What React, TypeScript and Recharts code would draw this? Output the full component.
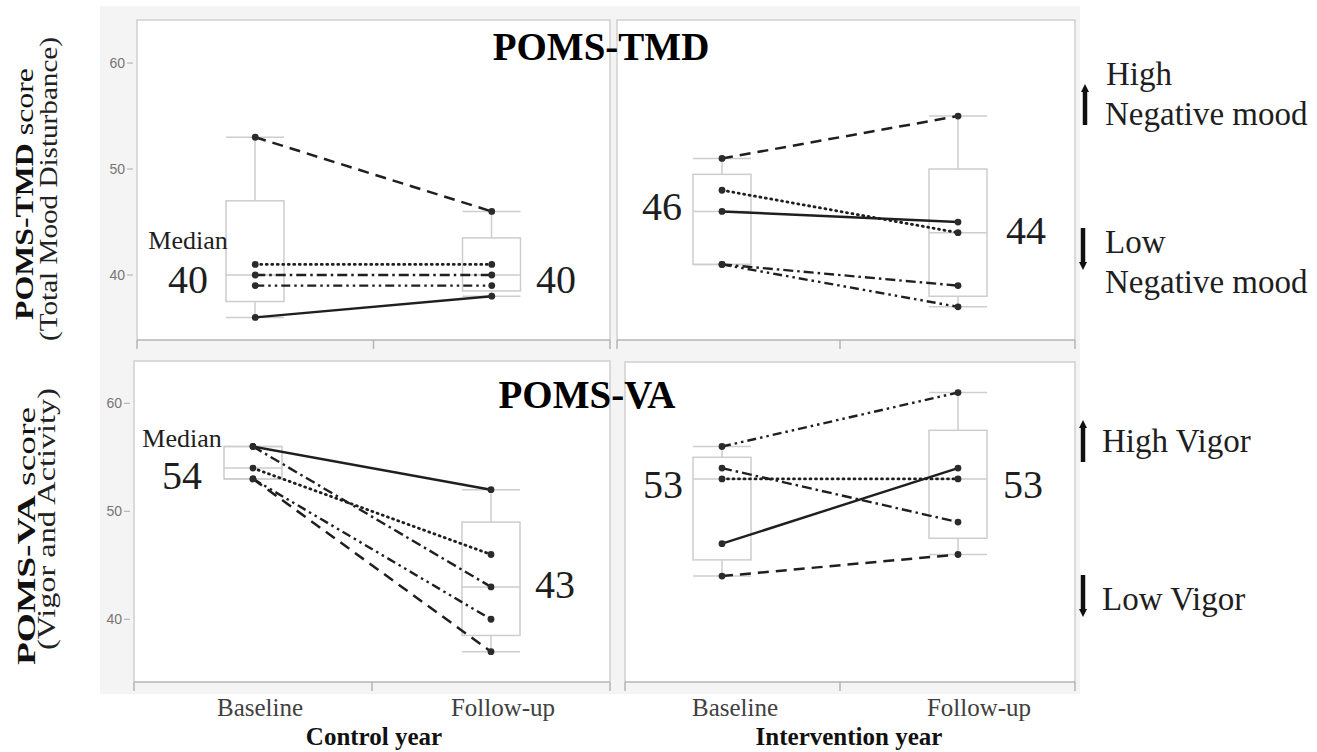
import React from 'react';
import { ComposedChart, Bar, Line, XAxis, YAxis } from 'recharts';

// ---------- data ----------
const timepoints = ['Baseline', 'Follow-up'];
const yTicks = [40, 50, 60];

// POMS-TMD, control year (baseline, follow-up) per subject
const tmdCtrlSolid = [36, 38];
const tmdCtrlDashed = [53, 46];
const tmdCtrlDotted = [41, 41];
const tmdCtrlDashDot = [40, 40];
const tmdCtrlDashDotDot = [39, 39];
// box stats [min, q1, median, q3, max] per timepoint
const tmdCtrlBox = [
  [36, 37.5, 40, 47, 53],
  [38, 38.5, 40, 43.5, 46],
];

// POMS-TMD, intervention year
const tmdIntSolid = [46, 45];
const tmdIntDashed = [51, 55];
const tmdIntDotted = [48, 44];
const tmdIntDashDot = [41, 39];
const tmdIntDashDotDot = [41, 37];
const tmdIntBox = [
  [41, 41, 46, 49.5, 51],
  [37, 38, 44, 50, 55],
];

// POMS-VA, control year
const vaCtrlSolid = [56, 52];
const vaCtrlDashed = [53, 37];
const vaCtrlDotted = [54, 46];
const vaCtrlDashDot = [56, 43];
const vaCtrlDashDotDot = [53, 40];
const vaCtrlBox = [
  [53, 53, 54, 56, 56],
  [37, 38.5, 43, 49, 52],
];

// POMS-VA, intervention year
const vaIntSolid = [47, 54];
const vaIntDashed = [44, 46];
const vaIntDotted = [53, 53];
const vaIntDashDot = [54, 49];
const vaIntDashDotDot = [56, 61];
const vaIntBox = [
  [44, 45.5, 53, 55, 56],
  [46, 47.5, 53, 57.5, 61],
];

const tmdDomain: [number, number] = [33.87, 64.06];
const vaDomain: [number, number] = [34.19, 63.92];

// ---------- helpers ----------
const SERIF = '"Liberation Serif", "Times New Roman", serif';
const SANS = '"Liberation Sans", Arial, sans-serif';

function buildRows(
  solid: number[], dashed: number[], dotted: number[], dashDot: number[], dashDotDot: number[], box: number[][]
) {
  return timepoints.map((t, i) => ({
    t,
    solid: solid[i],
    dashed: dashed[i],
    dotted: dotted[i],
    dashDot: dashDot[i],
    dashDotDot: dashDotDot[i],
    whisker: [box[i][0], box[i][4]],
    lo: box[i][0],
    q1: box[i][1],
    med: box[i][2],
    q3: box[i][3],
    hi: box[i][4],
  }));
}

const tmdCtrlRows = buildRows(tmdCtrlSolid, tmdCtrlDashed, tmdCtrlDotted, tmdCtrlDashDot, tmdCtrlDashDotDot, tmdCtrlBox);
const tmdIntRows = buildRows(tmdIntSolid, tmdIntDashed, tmdIntDotted, tmdIntDashDot, tmdIntDashDotDot, tmdIntBox);
const vaCtrlRows = buildRows(vaCtrlSolid, vaCtrlDashed, vaCtrlDotted, vaCtrlDashDot, vaCtrlDashDotDot, vaCtrlBox);
const vaIntRows = buildRows(vaIntSolid, vaIntDashed, vaIntDotted, vaIntDashDot, vaIntDashDotDot, vaIntBox);

const BoxShape = (props: any) => {
  const { x, y, width, height, payload } = props;
  if (!payload) return null;
  const { lo, q1, med, q3, hi } = payload;
  const top = Math.min(y, y + height);
  const h = Math.abs(height);
  const ppu = h / (hi - lo);
  const py = (v: number) => top + (hi - v) * ppu;
  const cx = x + width / 2;
  return (
    <g stroke="#cdcdcd" strokeWidth={1.5} fill="none">
      <line x1={cx} x2={cx} y1={py(hi)} y2={py(q3)} />
      <line x1={cx} x2={cx} y1={py(q1)} y2={py(lo)} />
      <line x1={x} x2={x + width} y1={py(hi)} y2={py(hi)} />
      <line x1={x} x2={x + width} y1={py(lo)} y2={py(lo)} />
      <rect x={x} y={py(q3)} width={width} height={py(q1) - py(q3)} />
      <line x1={x} x2={x + width} y1={py(med)} y2={py(med)} />
    </g>
  );
};

const makeXTick = (band: number, showLabels: boolean, dxs: number[]) => (props: any) => {
  const { x, y, payload, index } = props;
  return (
    <g>
      {index === 0 && (
        <line x1={x + band / 2} x2={x + band / 2} y1={y} y2={y + 9} stroke="#b5b5b5" strokeWidth={1.5} />
      )}
      {showLabels && (
        <text x={x + dxs[index]} y={y + 34} textAnchor="middle" fontSize={25} fontFamily={SERIF} fill="#404040">
          {payload.value}
        </text>
      )}
    </g>
  );
};

const YTick = (props: any) => {
  const { x, y, payload } = props;
  return (
    <g>
      <text x={x - 12} y={y} dy={5} textAnchor="end" fontSize={14} fontFamily={SANS} fill="#7a7575">
        {payload.value}
      </text>
      <line x1={x - 10} x2={x - 4} y1={y} y2={y} stroke="#aaaaaa" strokeWidth={1} />
    </g>
  );
};

const LINE_COLOR = '#1f1f1f';
const dotStyle = { r: 3.4, fill: '#2b2b2b', stroke: 'none', strokeDasharray: '' };

function Panel(props: {
  rows: any[];
  domain: [number, number];
  left: number;
  top: number;
  width: number;
  height: number;
  xAxisHeight: number;
  showY: boolean;
  band: number;
  showLabels: boolean;
  labelDx: number[];
}) {
  const { rows, domain, left, top, width, height, xAxisHeight, showY, band, showLabels, labelDx } = props;
  return (
    <div style={{ position: 'absolute', left, top, width, height }}>
      <ComposedChart width={width} height={height} data={rows} margin={{ top: 0, right: 0, bottom: 0, left: 0 }}>
        <XAxis
          dataKey="t"
          type="category"
          axisLine={false}
          tickLine={false}
          tickSize={0}
          tickMargin={0}
          interval={0}
          height={xAxisHeight}
          tick={makeXTick(band, showLabels, labelDx)}
        />
        <YAxis
          type="number"
          domain={domain}
          allowDataOverflow
          ticks={yTicks}
          hide={!showY}
          width={showY ? 40 : 0}
          axisLine={false}
          tickLine={false}
          tickSize={0}
          tickMargin={0}
          tick={<YTick />}
        />
        <Bar dataKey="whisker" barSize={58} shape={<BoxShape />} isAnimationActive={false} />
        <Line dataKey="dashed" stroke={LINE_COLOR} strokeWidth={2.5} strokeDasharray="11 7" dot={dotStyle} activeDot={false} isAnimationActive={false} />
        <Line dataKey="dotted" stroke={LINE_COLOR} strokeWidth={2.8} strokeDasharray="1 4.5" strokeLinecap="round" dot={dotStyle} activeDot={false} isAnimationActive={false} />
        <Line dataKey="dashDot" stroke={LINE_COLOR} strokeWidth={2.4} strokeDasharray="10 4 2.5 4" dot={dotStyle} activeDot={false} isAnimationActive={false} />
        <Line dataKey="dashDotDot" stroke={LINE_COLOR} strokeWidth={2.4} strokeDasharray="9 4 2.5 4 2.5 4" dot={dotStyle} activeDot={false} isAnimationActive={false} />
        <Line dataKey="solid" stroke={LINE_COLOR} strokeWidth={2.4} dot={dotStyle} activeDot={false} isAnimationActive={false} />
      </ComposedChart>
    </div>
  );
}

// frames [x, y, w, h]
const frames = [
  [137, 20, 473, 320],
  [617, 20, 458, 320],
  [134, 361, 476, 321],
  [625, 362, 450, 320],
];

const Arrow = ({ x, tip, tail }: { x: number; tip: number; tail: number }) => {
  const dir = tail > tip ? 1 : -1;
  return (
    <g>
      <line x1={x} x2={x} y1={tip + dir * 6} y2={tail} stroke="#111" strokeWidth={4.5} />
      <polygon points={`${x},${tip} ${x - 4},${tip + dir * 8} ${x + 4},${tip + dir * 8}`} fill="#111" />
    </g>
  );
};

export default function App() {
  const t = (x: number, y: number, s: string, size: number, opts: any = {}) => (
    <text x={x} y={y} fontSize={size} fontFamily={SERIF} fill={opts.fill || '#1e1e1e'} textAnchor={opts.anchor || 'middle'} fontWeight={opts.bold ? 'bold' : 'normal'}>
      {s}
    </text>
  );
  return (
    <div style={{ position: 'absolute', left: 0, top: 0, width: 1317, height: 752, background: '#ffffff', overflow: 'hidden' }}>
      <svg width={1317} height={752} style={{ position: 'absolute', left: 0, top: 0 }}>
        <rect x={100} y={6} width={980} height={688} fill="#f4f4f4" />
        {frames.map((f, i) => (
          <rect key={i} x={f[0]} y={f[1]} width={f[2]} height={f[3]} fill="#ffffff" />
        ))}
      </svg>

      <Panel rows={tmdCtrlRows} domain={tmdDomain} left={97} top={20} width={513} height={340} xAxisHeight={20} showY band={236.5} showLabels={false} labelDx={[0, 0]} />
      <Panel rows={tmdIntRows} domain={tmdDomain} left={604} top={20} width={472} height={340} xAxisHeight={20} showY={false} band={236} showLabels={false} labelDx={[0, 0]} />
      <Panel rows={vaCtrlRows} domain={vaDomain} left={94} top={361} width={516} height={371} xAxisHeight={50} showY band={238} showLabels labelDx={[7, 12]} />
      <Panel rows={vaIntRows} domain={vaDomain} left={604} top={361} width={472} height={371} xAxisHeight={50} showY={false} band={236} showLabels labelDx={[13, 21]} />

      <svg width={1317} height={752} style={{ position: 'absolute', left: 0, top: 0, pointerEvents: 'none' }}>
        {frames.map((f, i) => (
          <g key={i}>
            <polyline points={`${f[0]},${f[1] + f[3]} ${f[0]},${f[1]} ${f[0] + f[2]},${f[1]} ${f[0] + f[2]},${f[1] + f[3]}`} fill="none" stroke="#cfcfcf" strokeWidth={1.5} />
            <line x1={f[0]} x2={f[0] + f[2]} y1={f[1] + f[3]} y2={f[1] + f[3]} stroke="#b5b5b5" strokeWidth={1.5} />
            <line x1={f[0]} x2={f[0]} y1={f[1] + f[3]} y2={f[1] + f[3] + 9} stroke="#b5b5b5" strokeWidth={1.5} />
            <line x1={f[0] + f[2]} x2={f[0] + f[2]} y1={f[1] + f[3]} y2={f[1] + f[3] + 9} stroke="#b5b5b5" strokeWidth={1.5} />
          </g>
        ))}

        {t(601, 60, 'POMS-TMD', 39, { bold: true, fill: '#000' })}
        {t(587, 408, 'POMS-VA', 39, { bold: true, fill: '#000' })}

        {t(188, 249, 'Median', 26)}
        {t(188, 293, '40', 40)}
        {t(556, 293, '40', 40)}
        {t(662, 220, '46', 40)}
        {t(1026, 244, '44', 40)}

        {t(182, 447, 'Median', 26)}
        {t(182, 489, '54', 40)}
        {t(555, 598, '43', 40)}
        {t(663, 498, '53', 40)}
        {t(1023, 498, '53', 40)}

        {t(374, 745, 'Control year', 25, { bold: true, fill: '#111' })}
        {t(849, 745, 'Intervention year', 25, { bold: true, fill: '#111' })}

        <text x={33} y={194} transform="rotate(-90 33 194)" textAnchor="middle" fontSize={26} fontFamily={SERIF} fill="#111" textLength={252} lengthAdjust="spacingAndGlyphs">
          <tspan fontWeight="bold">POMS-TMD</tspan>
          <tspan> score</tspan>
        </text>
        <text x={57} y={189} transform="rotate(-90 57 189)" textAnchor="middle" fontSize={26} fontFamily={SERIF} fill="#222" textLength={304} lengthAdjust="spacingAndGlyphs">
          (Total Mood Disturbance)
        </text>
        <text x={35} y={536} transform="rotate(-90 35 536)" textAnchor="middle" fontSize={26} fontFamily={SERIF} fill="#111" textLength={258} lengthAdjust="spacingAndGlyphs">
          <tspan fontWeight="bold">POMS-VA</tspan>
          <tspan> score</tspan>
        </text>
        <text x={55} y={519} transform="rotate(-90 55 519)" textAnchor="middle" fontSize={26} fontFamily={SERIF} fill="#222" textLength={262} lengthAdjust="spacingAndGlyphs">
          (Vigor and Activity)
        </text>

        <Arrow x={1085} tip={84} tail={125} />
        <Arrow x={1083} tip={270} tail={228} />
        <Arrow x={1083} tip={420} tail={462} />
        <Arrow x={1083} tip={617} tail={575} />

        {t(1106, 85, 'High', 33, { anchor: 'start' })}
        {t(1105, 125, 'Negative mood', 33, { anchor: 'start' })}
        {t(1105, 253, 'Low', 33, { anchor: 'start' })}
        {t(1105, 293, 'Negative mood', 33, { anchor: 'start' })}
        {t(1102, 452, 'High Vigor', 33, { anchor: 'start' })}
        {t(1102, 610, 'Low Vigor', 33, { anchor: 'start' })}
      </svg>
    </div>
  );
}
